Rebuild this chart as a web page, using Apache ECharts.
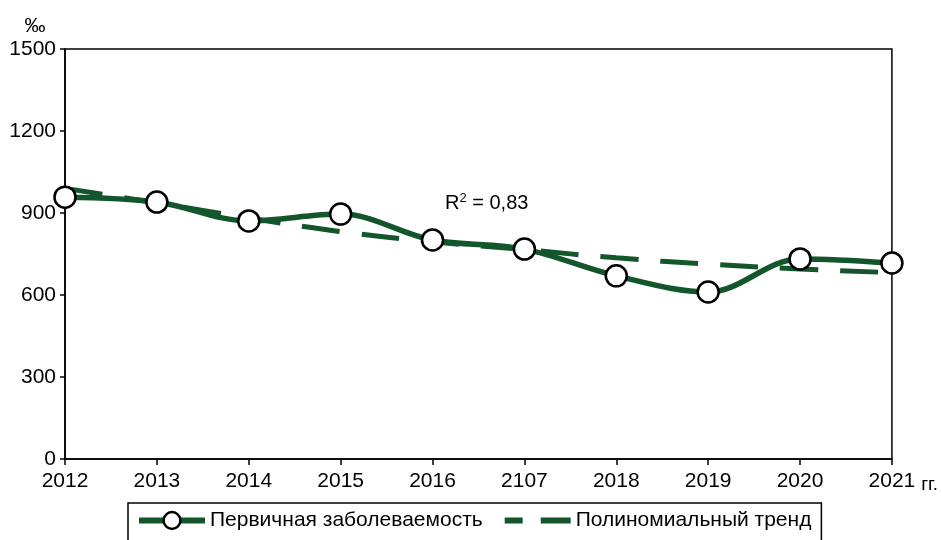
<!DOCTYPE html>
<html>
<head>
<meta charset="utf-8">
<script src="https://cdn.jsdelivr.net/npm/echarts@6/dist/echarts.min.js"></script>
<style>
  html, body { margin: 0; padding: 0; background: #fff; }
  #chart-container { width: 941px; height: 540px; }
</style>
</head>
<body>
<div id="chart-container"></div>
<script>
// years on the x axis (2107 is as printed in the original)
var years = ['2012', '2013', '2014', '2015', '2016', '2107', '2018', '2019', '2020', '2021'];

// primary incidence, per mille
var incidence = [958, 940, 871, 896, 801, 768, 670, 611, 732, 717];

// polynomial trend
var trend = [990, 937, 882, 832, 795, 766, 736, 713, 695, 682];

var lineColor = '#13562b';
var font = 'Liberation Sans, Arial, sans-serif';

var dom = document.getElementById('chart-container');
var myChart = echarts.init(dom, null, { renderer: 'canvas' });

var option = {
   animation: false,
   backgroundColor: '#fff',
   grid: {
      left: 65, right: 49, top: 49, bottom: 81,
      show: true, borderColor: '#000', borderWidth: 1.5
   },
   xAxis: {
      type: 'category',
      data: years,
      boundaryGap: false,
      name: 'гг.',
      nameLocation: 'end',
      nameGap: 26,
      nameTextStyle: { color: '#000', fontFamily: font, fontSize: 19, verticalAlign: 'top', padding: [16, 0, 0, 0] },
      axisLine: { lineStyle: { color: '#000', width: 1.5 } },
      axisTick: { show: true, length: 6, lineStyle: { color: '#000', width: 1.5 } },
      axisLabel: { color: '#000', fontFamily: font, fontSize: 21, margin: 12, interval: 0 },
      splitLine: { show: false }
   },
   yAxis: {
      type: 'value',
      min: 0, max: 1500, interval: 300,
      name: '‰',
      nameLocation: 'end',
      nameGap: 12,
      nameTextStyle: { color: '#000', fontFamily: font, fontSize: 21, padding: [0, 60, 0, 0] },
      axisLine: { show: true, lineStyle: { color: '#000', width: 1.5 } },
      axisTick: { show: true, length: 5, lineStyle: { color: '#000', width: 1.5 } },
      axisLabel: { color: '#000', fontFamily: font, fontSize: 21, margin: 9, formatter: function (v) { return String(v); } },
      splitLine: { show: false }
   },
   legend: {
      left: 128, top: 503,
      padding: [7, 10, 20, 8],
      itemGap: 22,
      itemWidth: 66, itemHeight: 21,
      borderColor: '#000', borderWidth: 1.5,
      textStyle: { color: '#000', fontFamily: font, fontSize: 21 },
      data: [
         {
            name: 'Первичная заболеваемость',
            lineStyle: { color: lineColor, width: 6 },
            itemStyle: { color: '#fff', borderColor: '#000', borderWidth: 2.5 }
         },
         {
            name: 'Полиномиальный тренд',
            icon: 'path://M0,0h18v6h-18z M36,0h30v6h-30z',
            itemStyle: { color: lineColor, borderWidth: 0 }
         }
      ]
   },
   series: [
      {
         name: 'Полиномиальный тренд',
         type: 'line',
         data: trend,
         smooth: true,
         symbol: 'none',
         z: 2,
         lineStyle: { color: lineColor, width: 5, type: [38, 22] },
         itemStyle: { color: lineColor }
      },
      {
         name: 'Первичная заболеваемость',
         type: 'line',
         data: incidence,
         smooth: 0.35,
         symbol: 'circle',
         symbolSize: 21,
         z: 3,
         lineStyle: { color: lineColor, width: 5.5 },
         itemStyle: { color: '#fff', borderColor: '#000', borderWidth: 2.5 }
      }
   ],
   graphic: [
      {
         type: 'text',
         left: 445, top: 192,
         style: {
            text: '{n|R}{s|2}{n| = 0,83}',
            rich: {
               n: { fontFamily: font, fontSize: 20, fill: '#000' },
               s: { fontFamily: font, fontSize: 13, fill: '#000', verticalAlign: 'top', padding: [0, 0, 9, 0] }
            }
         }
      }
   ]
};

myChart.setOption(option);
</script>
</body>
</html>
